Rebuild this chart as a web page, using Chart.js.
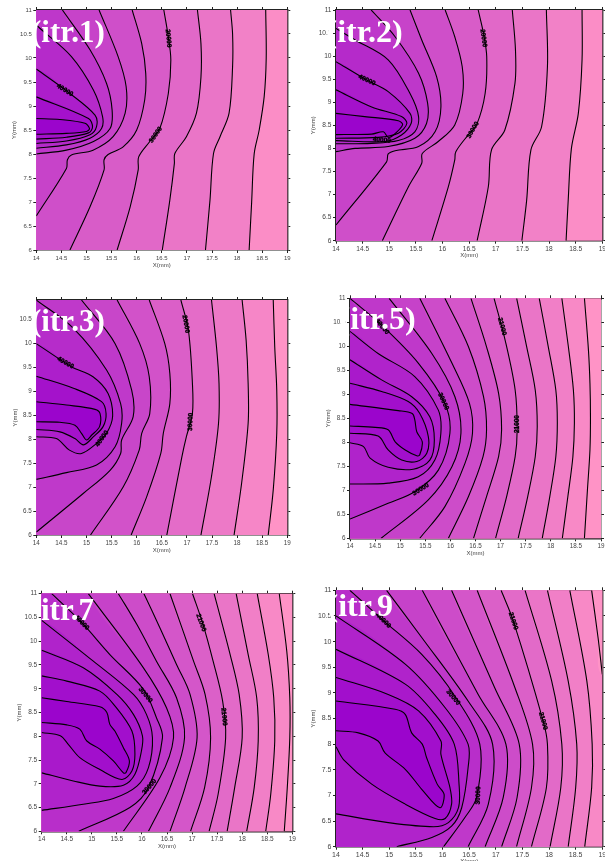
<!DOCTYPE html>
<html><head><meta charset="utf-8">
<style>
html,body{margin:0;padding:0;background:#fff;width:605px;height:861px;overflow:hidden}
canvas{position:absolute;display:block}
.ttl{position:absolute;font:bold 30px "Liberation Serif",serif;color:#fff;line-height:1;white-space:pre;z-index:5}
</style>
<script src="https://cdn.jsdelivr.net/npm/chart.js@4/dist/chart.umd.js"></script>
</head><body>
<script>
/* contour lines, flat x,y lists, inner (high value) to outer */
const itr1Contours=[
[14,8.41,14.6,8.43,15,8.47,15.06,8.53,14.97,8.64,14.47,8.72,14,8.74],
[14,8.31,14.6,8.35,15.04,8.44,15.12,8.56,15.04,8.74,14,9.19],
[14,8.22,14.6,8.27,15.07,8.4,15.2,8.57,15.17,8.81,14.67,9.26,14,9.77],
[14,8.12,14.6,8.19,15.07,8.33,15.3,8.53,15.32,8.78,15.14,9.33,14.7,10.03,14.07,10.62,14,10.69],
[14,8,14.6,8.08,15.14,8.26,15.47,8.53,15.51,8.92,15.4,9.47,15.07,10.17,14.52,11],
[14,6.71,14.6,7.7,14.62,7.88,14.7,7.98,15.13,8.08,15.53,8.36,15.77,8.85,15.79,9.4,15.63,10.03,15.25,11],
[14.67,6,15.07,6.9,15.35,7.67,15.35,7.88,15.43,7.99,15.73,8.15,16,8.5,16.16,9.13,16.18,9.68,16.1,10.3,15.91,11],
[15.61,6,15.87,6.9,16.03,7.67,16.04,7.94,16.26,8.26,16.46,8.53,16.63,9.26,16.68,9.96,16.63,10.44,16.54,11],
[16.51,6,16.66,7.04,16.75,7.8,16.76,8.01,16.99,8.36,17.19,8.85,17.28,9.6,17.28,10.3,17.21,11],
[17.37,6,17.46,7.04,17.53,8.01,17.66,8.36,17.84,8.85,17.91,9.82,17.91,10.5,17.87,11],
[18.24,6,18.29,7,18.34,8,18.44,8.5,18.54,9.2,18.58,10,18.57,11]
];
const itr2Contours=[
[14,8.3,14.67,8.31,14.89,8.36,14.98,8.24,15.08,8.29,15.25,8.51,15.17,8.6,14.54,8.69,14,8.76],
[14,8.22,14.79,8.24,15.17,8.33,15.33,8.54,15.23,8.69,14.67,8.9,14,9.27],
[14,8.17,14.92,8.15,15.23,8.29,15.41,8.54,15.39,8.76,14.98,9.23,14.58,9.48,14,9.88],
[14,8.1,14.67,8.11,15.17,8.17,15.48,8.36,15.55,8.69,15.39,9.19,14.98,9.92,14.36,10.35,14,10.6],
[14,7.93,14.36,8,14.98,8.04,15.48,8.22,15.7,8.54,15.72,8.98,15.55,9.63,15.11,10.42,14.66,11],
[14,6.34,14.95,7.71,14.98,7.88,15.11,7.95,15.55,8.04,15.86,8.36,15.97,8.9,15.89,9.55,15.61,10.35,15.39,11],
[14.87,6,15.36,7.17,15.61,7.68,15.62,7.89,15.92,8.15,16.23,8.51,16.38,9.19,16.37,9.77,16.23,10.42,16.05,11],
[15.8,6,16.11,7.17,16.23,7.75,16.25,7.93,16.48,8.29,16.64,8.51,16.8,9.19,16.83,9.99,16.77,10.49,16.67,11],
[16.65,6,16.86,7.17,16.92,7.97,17.17,8.4,17.36,9.41,17.37,10.13,17.31,11],
[17.49,6,17.58,6.88,17.66,7.97,17.86,8.47,17.97,9.77,17.95,11],
[18.32,6,18.36,6.88,18.42,8,18.55,8.76,18.62,9.92,18.62,11]
];
const itr3Contours=[
[14,8.36,14.47,8.35,14.77,8.29,14.9,8.12,15,7.98,15.1,8.08,15.26,8.26,15.27,8.53,15.17,8.62,14.6,8.71,14,8.78],
[14,8.2,14.47,8.15,14.77,8.01,14.94,7.88,15.14,8.05,15.33,8.26,15.39,8.53,15.3,8.78,14.74,9.06,14,9.31],
[14,8.05,14.4,8.01,14.66,7.77,14.9,7.7,15.2,7.91,15.4,8.12,15.52,8.47,15.43,8.95,15.13,9.3,14.7,9.51,14,9.99],
[14,7.16,14.6,7.3,15.2,7.46,15.57,7.84,15.7,8.33,15.68,8.74,15.4,9.44,14.74,10.31,14,10.9],
[14,6.06,14.94,6.87,15.47,7.35,15.68,7.7,15.7,7.98,15.93,8.47,15.9,9.02,15.57,9.99,14.9,10.9],
[15.08,6,15.73,7,16.05,7.77,16.1,8.12,16.26,8.53,16.25,9.3,16.06,9.99,15.61,10.9],
[15.89,6,16.2,6.8,16.48,7.7,16.53,8.12,16.66,8.74,16.66,9.37,16.56,9.99,16.25,10.9],
[16.6,6,16.9,7.63,16.99,8.05,17.11,8.53,17.11,9.16,17.03,10.27,16.88,10.9],
[17.28,6,17.49,7.22,17.63,8.33,17.64,9.16,17.59,9.92,17.49,10.9],
[17.94,6,18.09,7.08,18.22,8.33,18.22,9.16,18.18,10.06,18.1,10.9],
[18.62,6,18.72,6.94,18.79,8.12,18.79,9.02,18.75,9.92,18.72,10.9]
];
const itr5Contours=[
[14,8.34,14.5,8.31,14.76,8.26,14.9,8.01,15.1,7.84,15.33,7.72,15.39,7.74,15.44,8.01,15.33,8.22,15.29,8.47,15.24,8.6,14.96,8.66,14,8.79],
[14,8.19,14.56,8.13,14.76,7.84,15.03,7.63,15.33,7.6,15.53,7.77,15.56,8.12,15.39,8.6,15.16,8.85,14.63,9.06,14,9.23],
[14,7.99,14.27,7.91,14.4,7.67,14.76,7.48,15.26,7.44,15.59,7.63,15.68,8.05,15.59,8.53,15.23,8.95,14.63,9.3,14,9.72],
[14,7.13,14.76,7.15,15.36,7.28,15.69,7.63,15.81,8.19,15.76,8.67,15.29,9.37,14.56,9.85,14,10.31],
[14,6.4,14.76,6.73,15.29,6.97,15.76,7.42,15.99,8.19,15.89,8.81,15.36,9.65,14.63,10.44,14,11],
[14.62,6,15.56,6.8,16.03,7.49,16.21,8.19,16.09,8.95,15.63,9.85,14.78,11],
[15.39,6,15.89,6.66,16.29,7.56,16.44,8.19,16.38,8.81,16.03,9.65,15.39,11],
[15.96,6,16.36,6.87,16.65,7.7,16.72,8.26,16.66,8.95,16.36,9.99,15.89,11],
[16.46,6,16.72,6.87,16.96,7.7,17.02,8.26,16.96,9.02,16.72,9.99,16.41,11],
[16.9,6,17.12,6.87,17.29,7.7,17.33,8.26,17.29,9.09,17.09,10.13,16.87,11],
[17.35,6,17.54,6.87,17.69,7.7,17.73,8.33,17.69,9.09,17.52,9.99,17.32,11],
[17.83,6,17.98,6.87,18.1,7.7,18.13,8.4,18.1,9.09,17.95,9.99,17.77,11],
[18.23,6,18.34,6.87,18.44,7.7,18.47,8.4,18.45,9.09,18.35,9.99,18.22,11],
[18.67,6,18.73,7.01,18.78,7.84,18.79,8.53,18.78,9.23,18.75,9.92,18.67,11]
];
const itr7Contours=[
[14,8.29,14.5,8.24,14.76,8.15,14.9,7.9,15.16,7.73,15.43,7.48,15.63,7.23,15.68,7.23,15.75,7.48,15.63,7.76,15.46,8.11,15.36,8.25,15.3,8.5,15.16,8.62,14.5,8.73,14,8.81],
[14,8.08,14.37,8.01,14.53,7.83,14.76,7.55,15.16,7.3,15.6,7.09,15.8,7.27,15.86,7.62,15.8,8.11,15.46,8.64,15.16,8.95,14.5,9.16,14,9.27],
[14,7.23,14.63,7.06,15.16,6.95,15.63,6.97,15.86,7.2,15.99,7.69,16.01,8.01,15.83,8.46,15.5,8.88,14.83,9.44,14,9.81],
[14,6.44,14.83,6.57,15.43,6.69,15.9,6.95,16.13,7.34,16.21,7.97,16.09,8.46,15.83,8.88,15.03,9.58,14,10.44],
[14.74,6,15.76,6.5,16.13,6.92,16.41,7.97,16.29,8.39,16.03,8.99,15.36,9.72,14.8,10.39,14.2,11],
[15.63,6,16.36,7.13,16.63,7.97,16.49,8.6,16.03,9.44,14.93,11],
[16.13,6,16.56,6.92,16.85,7.97,16.69,8.81,16.29,9.58,15.9,10.35,15.53,11],
[16.56,6,16.86,6.92,17.1,7.97,16.96,8.88,16.69,9.51,16.36,10.28,16.04,11],
[16.97,6,17.25,6.92,17.37,7.97,17.26,8.88,17.03,9.58,16.56,11],
[17.34,6,17.52,6.78,17.67,7.97,17.61,8.74,17.42,9.58,17.22,10.35,17.01,11],
[17.7,6,17.85,6.92,18,7.97,17.94,8.88,17.76,9.72,17.44,11],
[18.09,6,18.24,6.92,18.32,7.9,18.29,8.81,18.12,9.72,17.88,11],
[18.47,6,18.57,6.78,18.65,7.9,18.63,8.81,18.52,9.72,18.3,11],
[18.84,6,18.9,6.92,18.95,7.97,18.95,8.81,18.89,9.79,18.74,11]
];
const itr9Contours=[
[14,8.26,14.42,8.22,14.79,8.06,14.92,7.83,15.3,7.51,15.61,7.12,15.95,6.76,16.03,7.02,15.9,7.22,15.7,7.74,15.62,8,15.42,8.22,15.3,8.58,15.11,8.68,14,8.84],
[14,7.95,14.14,7.7,14.67,7.22,15.3,6.83,15.86,6.55,16.05,6.55,16.17,6.83,16.14,7.15,15.97,7.8,15.97,8.06,15.55,8.65,14.98,8.97,14,9.3],
[14,6.64,14.98,6.47,15.83,6.39,16.11,6.47,16.3,6.76,16.31,7.22,16.22,8,15.86,8.58,15.3,9.17,14,9.85],
[15.14,6,15.8,6.18,16.17,6.4,16.36,6.76,16.48,7.54,16.48,8,16.05,8.71,15.3,9.56,14,10.5],
[16.02,6,16.42,6.57,16.64,6.96,16.7,8,16.23,8.94,15.61,9.75,14.89,10.41,14.26,11],
[16.48,6,16.86,6.83,16.94,8,16.48,8.84,15.61,10.08,14.95,11],
[16.8,6,17.14,6.96,17.19,8,16.67,8.97,15.62,11],
[17.11,6,17.4,6.96,17.44,8,16.98,9.1,16.17,11],
[17.39,6,17.67,7.15,17.69,8,17.36,9.1,16.65,11],
[17.67,6,17.95,7.15,17.97,8,17.89,8.45,17.33,10.4,17.1,11],
[18.02,6,18.22,7.15,18.24,8,18.05,9.23,17.55,11],
[18.36,6,18.5,7.15,18.52,8,18.36,9.23,17.97,11],
[18.67,6,18.8,7.15,18.81,8,18.71,9.23,18.39,11],
[18.8,11,18.92,10.08,19,9.36]
];
/* contour value labels: text, x, y, angle along the line */
const itr1Labels=[["20000",16.63,10.41,85],["30000",16.38,8.4,-55],["40000",14.57,9.33,32]];
const itr2Labels=[["20000",16.77,10.39,82],["30000",16.57,8.4,-60],["40000",14.58,9.48,25],["40000",14.86,8.18,5]];
const itr3Labels=[["20000",16.98,10.4,80],["30000",17.07,8.36,-88],["40000",14.58,9.59,30],["40000",15.31,8.01,-55]];
const itr5Labels=[["21000",17.03,10.41,75],["21000",17.33,8.38,-90],["30000",15.86,8.85,65],["30000",15.41,7.02,-32],["40000",14.64,10.41,50]];
const itr7Labels=[["21000",17.18,10.39,70],["21000",17.64,8.41,85],["30000",16.07,8.87,50],["30000",16.15,6.94,-50],["40000",14.8,10.39,45]];
const itr9Labels=[["21000",17.33,10.4,72],["21000",17.89,8.45,75],["30000",16.2,8.91,50],["30000",16.67,7,-88],["40000",14.89,10.41,45]];
const titles=["(itr.1)","(itr.2)","(itr.3)","(itr.5)","itr.7","(itr.9"];
const yMaxes=[11,11,10.9,11,11,11];
/* layout: plot left, right, top, bottom, y-title x, x-title y, tick font, title x, title baseline, title size, top of colour range */
const layouts=[
{l:36.3,r:287.3,t:10,b:250,yt:15,xt:265,f:6,tx:31,ty:42,ts:31,c:.96},
{l:336,r:602.3,t:10,b:240.7,yt:314,xt:255,f:6.6,tx:326.5,ty:42,ts:32,c:.96},
{l:36.3,r:287.3,t:300,b:535,yt:16.3,xt:550,f:6.3,tx:31,ty:331,ts:31,c:1},
{l:350,r:601,t:298.3,b:538.3,yt:329,xt:553,f:6.3,tx:339.5,ty:329,ts:32,c:1},
{l:41.7,r:292.3,t:593.7,b:831.3,yt:20.7,xt:846,f:6.5,tx:41,ty:620,ts:31,c:1},
{l:336,r:602.3,t:590.3,b:846.7,yt:314,xt:861,f:7,tx:327.5,ty:616,ts:32,c:1}
];
const allContours=[itr1Contours,itr2Contours,itr3Contours,itr5Contours,itr7Contours,itr9Contours];
const allLabels=[itr1Labels,itr2Labels,itr3Labels,itr5Labels,itr7Labels,itr9Labels];
const darkest=[155,5,204],lightest=[255,147,198];
function band(t){return 'rgb('+darkest.map((d,i)=>Math.round(d+(lightest[i]-d)*t)).join(',')+')';}
function pts(f){const o=[];for(let i=0;i<f.length;i+=2)o.push({x:f[i],y:f[i+1]});return o;}
function closure(p,yMax){
  const a=p[0],z=p[p.length-1],o=p.slice();
  if(z.x===19){o.push({x:20,y:z.y},{x:20,y:yMax+1},{x:a.x,y:yMax+1});return o;}
  if(z.y===yMax){o.push({x:z.x,y:yMax+1},{x:13,y:yMax+1});}
  else{o.push({x:13,y:z.y});}
  if(a.y===6){o.push({x:13,y:5},{x:a.x,y:5});}
  else{o.push({x:13,y:a.y});}
  return o;
}
const areaBg={id:'areaBg',beforeDatasetsDraw(c,_,o){const a=c.chartArea,g=c.ctx;g.save();g.fillStyle=o.color;g.fillRect(a.left,a.top,a.width,a.height);g.restore();}};
const valueLabels={id:'valueLabels',afterDatasetsDraw(c,_,o){const g=c.ctx;
  for(const [s,x,y,a] of o.items){g.save();g.translate(c.scales.x.getPixelForValue(x),c.scales.y.getPixelForValue(y));g.rotate(a*Math.PI/180);
    g.font='bold 6.5px "Liberation Sans",Arial,sans-serif';g.fillStyle='#000';g.strokeStyle='#000';g.lineWidth=.35;g.textAlign='center';g.textBaseline='middle';g.fillText(s,0,0);g.strokeText(s,0,0);g.restore();}
}};
layouts.forEach((L,k)=>{
  const T=8,R=8,yMax=yMaxes[k],lines=allContours[k],n=lines.length;
  const corner=lines[n-1][lines[n-1].length-2]===19;
  const left=Math.floor(L.yt-4),top=Math.floor(L.t-T);
  const LW=L.l-left,TH=L.t-top,BH=L.xt+4-L.b,W=Math.ceil(L.r+R-left),H=Math.ceil(L.xt+4-top);
  const cv=document.createElement('canvas');cv.width=W;cv.height=H;cv.style.left=left+'px';cv.style.top=top+'px';cv.style.width=W+'px';cv.style.height=H+'px';document.body.appendChild(cv);
  const col=i=>band(i/n*L.c);
  const datasets=[];
  lines.forEach((f,i)=>{
    const p=pts(f);
    datasets.push({data:closure(p,yMax),showLine:true,tension:.33,capBezierPoints:false,pointRadius:0,borderWidth:0,fill:'shape',backgroundColor:col(i===n-1&&corner?n:i),order:100+i});
  });
  lines.forEach((f)=>{datasets.push({data:pts(f),showLine:true,tension:.33,capBezierPoints:false,pointRadius:0,borderColor:'#000',borderWidth:1.1,fill:false,order:0});});
  const tickFont={family:'"Liberation Sans",Arial,sans-serif',size:L.f};
  const ax=(pos,min,max,fit,labels,title)=>({type:'linear',position:pos,min,max,afterFit:fit,
    border:{display:true,color:'#222',width:1.4},
    grid:{drawOnChartArea:false,drawTicks:true,tickLength:3,color:'#222',tickWidth:1},
    ticks:{display:labels,stepSize:.5,autoSkip:false,maxRotation:0,includeBounds:false,color:'#444',font:tickFont,padding:1.5,callback:v=>String(v)},
    title:title?{display:true,text:title,color:'#444',font:{family:tickFont.family,size:6},padding:0}:{display:false}});
  new Chart(cv,{type:'scatter',data:{datasets},plugins:[areaBg,valueLabels],options:{
    responsive:false,animation:false,events:[],
    layout:{padding:0},
    plugins:{legend:{display:false},tooltip:{enabled:false},areaBg:{color:col(corner?n-1:n)},valueLabels:{items:allLabels[k]}},
    scales:{
      x:ax('bottom',14,19,s=>{s.height=BH;},true,'X(mm)'),
      y:ax('left',6,yMax,s=>{s.width=LW;},true,'Y(mm)'),
      x2:ax('top',14,19,s=>{s.height=TH;},false),
      y2:ax('right',6,yMax,s=>{s.width=W-(L.r-left);},false)
    }}});
  const d=document.createElement('div');d.className='ttl';d.textContent=titles[k];d.style.left=L.tx+'px';d.style.fontSize=L.ts+'px';d.style.top=(L.ty-L.ts*.8375)+'px';document.body.appendChild(d);
});
</script>
</body></html>
